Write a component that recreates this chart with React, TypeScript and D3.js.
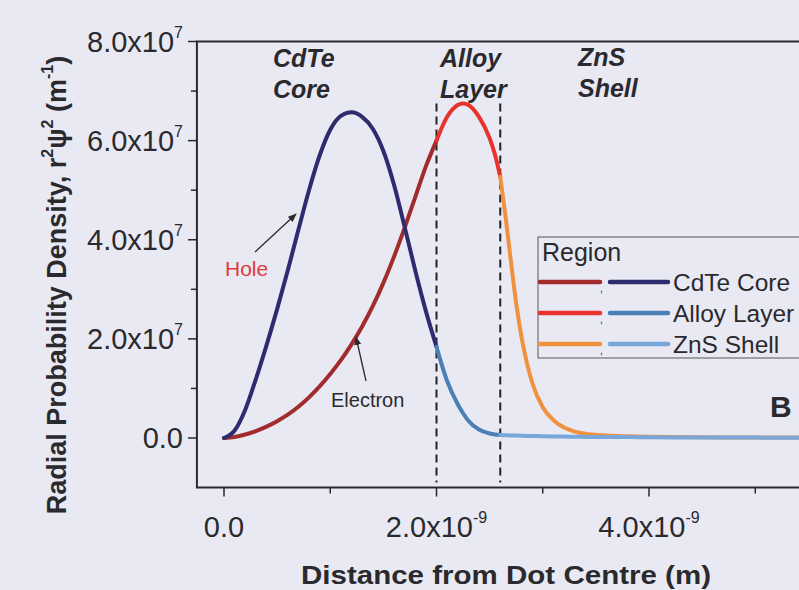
import React from "react";
import * as d3 from "d3";

// distance in nm (axis labelled in m, x10^-9), density in units of 1e7 m^-1
const coreDist = [0, 0.1, 0.2, 0.3, 0.4, 0.5, 0.6, 0.7, 0.8, 0.9, 1.0, 1.1, 1.2, 1.3, 1.4, 1.5, 1.6, 1.7, 1.8, 1.9, 2.0];
const electronCore = [0, 0.02, 0.07, 0.14, 0.23, 0.34, 0.47, 0.63, 0.82, 1.04, 1.29, 1.57, 1.89, 2.25, 2.66, 3.13, 3.66, 4.24, 4.86, 5.48, 6.0];
const holeCore = [0, 0.15, 0.57, 1.19, 1.87, 2.6, 3.38, 4.2, 5.0, 5.7, 6.22, 6.5, 6.57, 6.48, 6.24, 5.79, 5.11, 4.26, 3.38, 2.56, 1.84];

const alloyDist = [2.0, 2.1, 2.2, 2.25, 2.3, 2.4, 2.5, 2.55, 2.6];
const electronAlloy = [6.0, 6.48, 6.72, 6.75, 6.72, 6.48, 6.05, 5.72, 5.27];
const holeAlloy = [1.84, 1.15, 0.68, 0.5, 0.35, 0.17, 0.09, 0.07, 0.06];

const shellDist = [2.6, 2.65, 2.7, 2.75, 2.8, 2.85, 2.9, 3.0, 3.1, 3.2, 3.3, 3.4, 3.6, 3.8, 4.0, 4.5, 5.0, 5.5, 5.9];
const electronShell = [5.27, 4.47, 3.57, 2.72, 2.04, 1.52, 1.12, 0.62, 0.36, 0.21, 0.13, 0.085, 0.05, 0.035, 0.025, 0.015, 0.01, 0.008, 0.006];
const holeShell = [0.06, 0.055, 0.05, 0.048, 0.045, 0.042, 0.04, 0.035, 0.03, 0.028, 0.025, 0.022, 0.02, 0.018, 0.015, 0.01, 0.008, 0.005, 0.005];

const regionNames = ["CdTe Core", "Alloy Layer", "ZnS Shell"];
const electronColors = ["#a12b2d", "#e8322e", "#f0913f"];
const holeColors = ["#2e2b6e", "#4a80b5", "#79a7dc"];
const boundaries = [2.0, 2.6];

const xTicks = [0, 2, 4];
const xMinor = [1, 3, 5];
const yTicks = [0, 2, 4, 6, 8];
const yMinor = [1, 3, 5, 7];

const W = 799;
const H = 590;
const font = "'Liberation Sans', Arial, sans-serif";
const ink = "#2a2a2e";

const x = d3.scaleLinear().domain([0, 4]).range([224, 649]);
const y = d3.scaleLinear().domain([0, 8]).range([438, 41.5]);
const left = x(-0.255);
const right = x(6.2);
const top = y(8);
const bottom = y(-1);

const line = d3
	.line<[number, number]>()
	.x((d) => x(d[0]))
	.y((d) => y(d[1]))
	.curve(d3.curveMonotoneX);

const pair = (xs: number[], ys: number[]) => xs.map((v, i) => [v, ys[i]] as [number, number]);

const electronSeries = [pair(coreDist, electronCore), pair(alloyDist, electronAlloy), pair(shellDist, electronShell)];
const holeSeries = [pair(coreDist, holeCore), pair(alloyDist, holeAlloy), pair(shellDist, holeShell)];

const fmt = (v: number) => v.toFixed(1);

export default function App() {
	return (
		<svg width={W} height={H} style={{ position: "absolute", left: 0, top: 0 }} fontFamily={font}>
			<defs>
				<marker id="arr" viewBox="0 0 10 8" refX="9" refY="4" markerWidth="9" markerHeight="7" orient="auto" markerUnits="userSpaceOnUse">
					<path d="M0,0 L10,4 L0,8 Z" fill={ink} />
				</marker>
				<clipPath id="plot">
					<rect x={left} y={top} width={right - left} height={bottom - top} />
				</clipPath>
			</defs>
			<rect width={W} height={H} fill="#e9e9f3" />

			{/* frame */}
			<path d={`M${right},${top} H${left} V${bottom} H${right}`} fill="none" stroke={ink} strokeWidth={2} />

			{/* y ticks */}
			{yTicks.map((t) => (
				<g key={"y" + t}>
					<line x1={left - 9} x2={left} y1={y(t)} y2={y(t)} stroke={ink} strokeWidth={1.5} />
					<text x={183} y={y(t) + 10} textAnchor="end" fontSize={29} fill={ink}>
						{t === 0 ? (
							"0.0"
						) : (
							<>
								{fmt(t)}x10
								<tspan fontSize={16} dy={-14}>7</tspan>
							</>
						)}
					</text>
				</g>
			))}
			{yMinor.map((t) => (
				<line key={"ym" + t} x1={left - 6} x2={left} y1={y(t)} y2={y(t)} stroke={ink} strokeWidth={1.5} />
			))}

			{/* x ticks */}
			{xTicks.map((t) => (
				<g key={"x" + t}>
					<line x1={x(t)} x2={x(t)} y1={bottom} y2={bottom + 9} stroke={ink} strokeWidth={1.5} />
					<text x={x(t)} y={537} textAnchor="middle" fontSize={29} fill={ink}>
						{t === 0 ? (
							"0.0"
						) : (
							<>
								{fmt(t)}x10
								<tspan fontSize={16} dy={-14}>-9</tspan>
							</>
						)}
					</text>
				</g>
			))}
			{xMinor.map((t) => (
				<line key={"xm" + t} x1={x(t)} x2={x(t)} y1={bottom} y2={bottom + 6} stroke={ink} strokeWidth={1.5} />
			))}

			{/* axis titles */}
			<text x={506} y={584} textAnchor="middle" fontSize={26} fontWeight="bold" fill={ink} textLength={410} lengthAdjust="spacingAndGlyphs">
				Distance from Dot Centre (m)
			</text>
			<text transform="translate(66,285) rotate(-90)" textAnchor="middle" fontSize={27} fontWeight="bold" fill={ink}>
				Radial Probability Density, r<tspan fontSize={16} dy={-13}>2</tspan>
				<tspan dy={13}>ψ</tspan>
				<tspan fontSize={16} dy={-13}>2</tspan>
				<tspan dy={13}> (m</tspan>
				<tspan fontSize={16} dy={-13}>-1</tspan>
				<tspan dy={13}>)</tspan>
			</text>

			{/* region boundaries */}
			{boundaries.map((b) => (
				<line key={"b" + b} x1={x(b)} x2={x(b)} y1={y(6.75)} y2={y(-0.9)} stroke="#222" strokeWidth={2} strokeDasharray="8,5" />
			))}

			{/* curves */}
			<g clipPath="url(#plot)" fill="none" strokeWidth={4} strokeLinecap="round" strokeLinejoin="round">
				{electronSeries.map((s, i) => (
					<path key={"e" + i} d={line(s) || ""} stroke={electronColors[i]} />
				))}
				{holeSeries.map((s, i) => (
					<path key={"h" + i} d={line(s) || ""} stroke={holeColors[i]} />
				))}
			</g>

			{/* region labels */}
			<g fontSize={25} fontWeight="bold" fontStyle="italic" fill={ink}>
				<text x={273} y={67}>CdTe</text>
				<text x={273} y={98}>Core</text>
				<text x={440} y={67}>Alloy</text>
				<text x={440} y={98}>Layer</text>
				<text x={578} y={66}>ZnS</text>
				<text x={578} y={97}>Shell</text>
			</g>

			{/* carrier annotations */}
			<text x={225} y={276} fontSize={21} fill="#e03b3b">Hole</text>
			<line x1={255} y1={252} x2={296} y2={214} stroke={ink} strokeWidth={1.3} markerEnd="url(#arr)" />
			<text x={331} y={407} fontSize={20} fill={ink}>Electron</text>
			<line x1={366} y1={381} x2={356} y2={337} stroke={ink} strokeWidth={1.3} markerEnd="url(#arr)" />

			{/* legend */}
			<g>
				<rect x={538} y={237} width={300} height={121} fill="#e9e9f3" stroke="#555" strokeWidth={1} />
				<text x={542} y={261} fontSize={25} fill={ink}>Region</text>
				{regionNames.map((name, i) => {
					const ly = 282 + i * 31;
					return (
						<g key={name}>
							<line x1={540} x2={600} y1={ly} y2={ly} stroke={electronColors[i]} strokeWidth={4.5} strokeLinecap="round" />
							<text x={600} y={ly + 10} fontSize={10} fill={ink}>,</text>
							<line x1={610} x2={668} y1={ly} y2={ly} stroke={holeColors[i]} strokeWidth={4.5} strokeLinecap="round" />
							<text x={673} y={ly + 9} fontSize={24.5} fill={ink}>{name}</text>
						</g>
					);
				})}
			</g>

			<text x={770} y={417} fontSize={30} fontWeight="bold" fill={ink}>B</text>
		</svg>
	);
}
